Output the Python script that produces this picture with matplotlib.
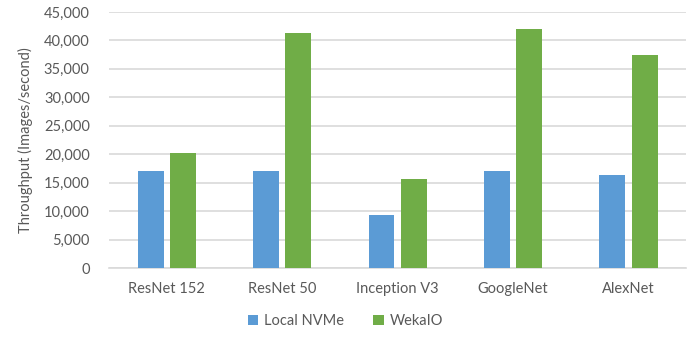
import numpy as np
import matplotlib.pyplot as plt

modelos = ["ResNet 152", "ResNet 50", "Inception V3", "GoogleNet", "AlexNet"]
local_nvme = [17050, 17050, 9300, 17050, 16350]
wekaio = [20150, 41350, 15600, 42000, 37500]

plt.rcParams['font.family'] = ['Lato', 'DejaVu Sans']
gris = '#595959'

fig = plt.figure(figsize=(6.91, 3.41), dpi=100)
ax = fig.add_axes([0.158, 0.214, 0.835, 0.751])

x = np.arange(len(modelos))
w = 0.225
ax.bar(x - 0.14, local_nvme, w, color='#5B9BD5', label='Local NVMe', zorder=3)
ax.bar(x + 0.14, wekaio, w, color='#70AD47', label='WekaIO', zorder=3)

ax.set_xlim(-0.5, len(modelos) - 0.5)
ax.set_ylim(0, 45000)
ax.set_yticks(np.arange(0, 45001, 5000))
ax.set_yticklabels([f"{v:,}" for v in range(0, 45001, 5000)])
ax.set_xticks(x)
ax.set_xticklabels(modelos)
ax.yaxis.grid(True, color='#D9D9D9', linewidth=1.2, zorder=0)
for s in ['top', 'right', 'left']:
    ax.spines[s].set_visible(False)
ax.spines['bottom'].set_color('#D9D9D9')
ax.spines['bottom'].set_linewidth(1.2)
ax.tick_params(axis='both', length=0, colors=gris, labelsize=10.5)
ax.tick_params(axis='x', pad=10)
ax.tick_params(axis='y', pad=14)
ax.set_ylabel("Throughput (Images/second)", color=gris, fontsize=10.5, labelpad=8)

fig.legend(loc='lower center', bbox_to_anchor=(0.5, 0.0), ncol=2, frameon=False,
           fontsize=10.5, labelcolor=gris, handlelength=0.7, handleheight=0.7,
           columnspacing=2.0, handletextpad=0.4)

plt.savefig("out.png", dpi=100)
